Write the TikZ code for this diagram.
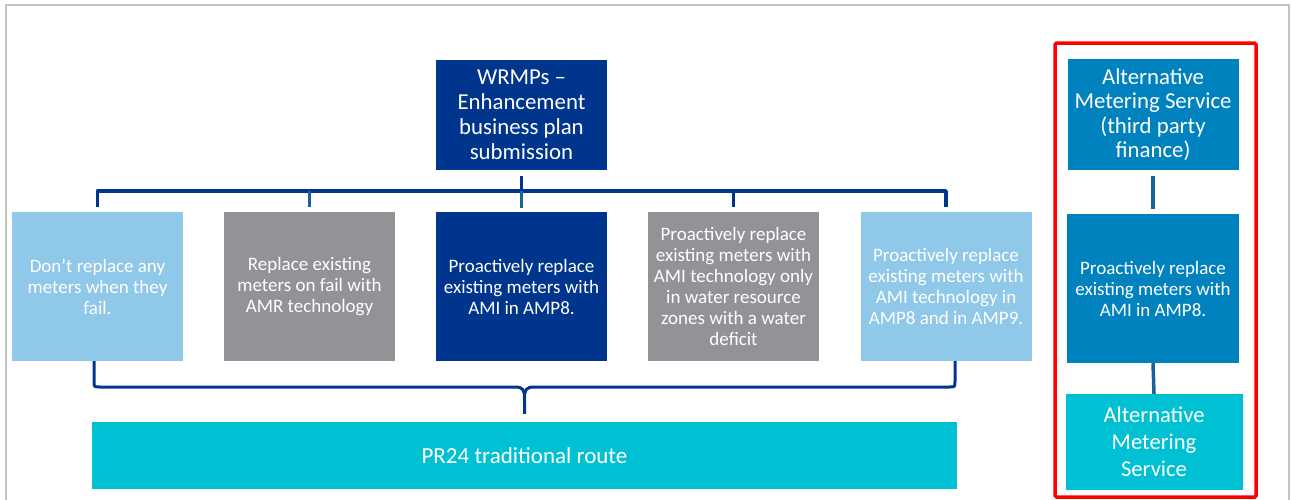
\documentclass[tikz,border=0pt]{standalone}
\usepackage{fontspec}
\setmainfont{Carlito}
\definecolor{navy}{RGB}{0,53,141}
\definecolor{skyblue}{RGB}{143,200,232}
\definecolor{midgray}{RGB}{146,147,150}
\definecolor{ocean}{RGB}{0,130,190}
\definecolor{aqua}{RGB}{0,193,212}
\definecolor{stubblue}{RGB}{24,100,152}
\definecolor{framegray}{RGB}{195,195,195}
\definecolor{framered}{RGB}{255,0,0}
\begin{document}
\begin{tikzpicture}[x=1pt,y=-1pt,
  card/.style={rectangle, inner sep=0pt, align=center, text=white},
  option/.style={card, minimum width=171pt, minimum height=149pt,
    font=\fontsize{19}{21}\selectfont},
  busline/.style={draw=navy, line width=3.5pt, line join=round},
  stubline/.style={draw=stubblue, line width=3pt},
  braceline/.style={draw=navy, line width=3pt, line join=round},
  colline/.style={draw=stubblue, line width=3.5pt}]
\useasboundingbox (0,0) rectangle (1292,499);

% outer frame
\draw[framegray, line width=2pt] (6,500) -- (6,4.5) -- (1289,4.5) -- (1289,500);

% top box
\node[card, fill=navy, minimum width=171pt, minimum height=110pt,
  font=\fontsize{22.8}{25}\selectfont] (top) at (521.5,115)
  {WRMPs --\\Enhancement\\business plan\\submission};

% five options
\node[option, fill=skyblue] (b1) at (97.5,286.5)
  {Don’t replace any\\meters when they\\fail.};
\node[option, fill=midgray] (b2) at (309.5,286.5)
  {Replace existing\\meters on fail with\\AMR technology};
\node[option, fill=navy] (b3) at (521.5,286.5)
  {Proactively replace\\existing meters with\\AMI in AMP8.};
\node[option, fill=midgray] (b4) at (733.5,286.5)
  {Proactively replace\\existing meters with\\AMI technology only\\in water resource\\zones with a water\\deficit};
\node[option, fill=skyblue] (b5) at (946,286.5)
  {Proactively replace\\existing meters with\\AMI technology in\\AMP8 and in AMP9.};

% traditional route
\node[card, fill=aqua, minimum width=865pt, minimum height=67pt,
  font=\fontsize{23}{27}\selectfont] (route) at (524.5,455.5)
  {PR24 traditional route};

% alternative column
\node[card, fill=ocean, minimum width=171pt, minimum height=111pt,
  font=\fontsize{22.8}{24.4}\selectfont] (altA) at (1153,114.5)
  {Alternative\\Metering Service\\(third party\\finance)};
\node[card, fill=ocean, minimum width=172pt, minimum height=149pt,
  font=\fontsize{19}{21}\selectfont] (altB) at (1153,288.5)
  {Proactively replace\\existing meters with\\AMI in AMP8.};
\node[card, fill=aqua, minimum width=177pt, minimum height=96pt,
  font=\fontsize{22.6}{27}\selectfont] (altC) at (1154,442)
  {Alternative\\Metering\\Service};

% distribution bus
\coordinate (busY) at (0,191);
\draw[busline] ([yshift=5pt]b1.north) -- (b1.north |- busY)
  -- (b5.north |- busY) -- ([yshift=5pt]b5.north);
\draw[busline] ([yshift=-6pt]top.south) -- (top.south |- busY);
\draw[stubline] (b2.north |- busY) -- ([yshift=5pt]b2.north);
\draw[stubline] (b3.north |- busY) -- ([yshift=4pt]b3.north);
\draw[busline] (b4.north |- busY) -- ([yshift=5pt]b4.north);

% brace gathering the options
\coordinate (braceL) at (94,361);
\coordinate (braceR) at (955,361);
\coordinate (tip) at ([yshift=8pt]route.north);
\draw[braceline] (braceL) -- (94,381) .. controls (94,387) .. (100,387)
  -- (515,387) .. controls (523,387) and (524.5,390) .. (524.5,398) -- (tip);
\draw[braceline] (braceR) -- (955,381) .. controls (955,387) .. (949,387)
  -- (534,387) .. controls (526,387) and (524.5,390) .. (524.5,398);

% alternative column links
\draw[colline] ([yshift=-6pt]altA.south) -- ([yshift=5pt]altB.north);
\draw[colline] (altB.south) -- (altC.north);

% highlight frame
\draw[framered, line width=3.5pt, rounded corners=1.5pt] (1055,43) rectangle (1256,497);
\end{tikzpicture}
\end{document}
